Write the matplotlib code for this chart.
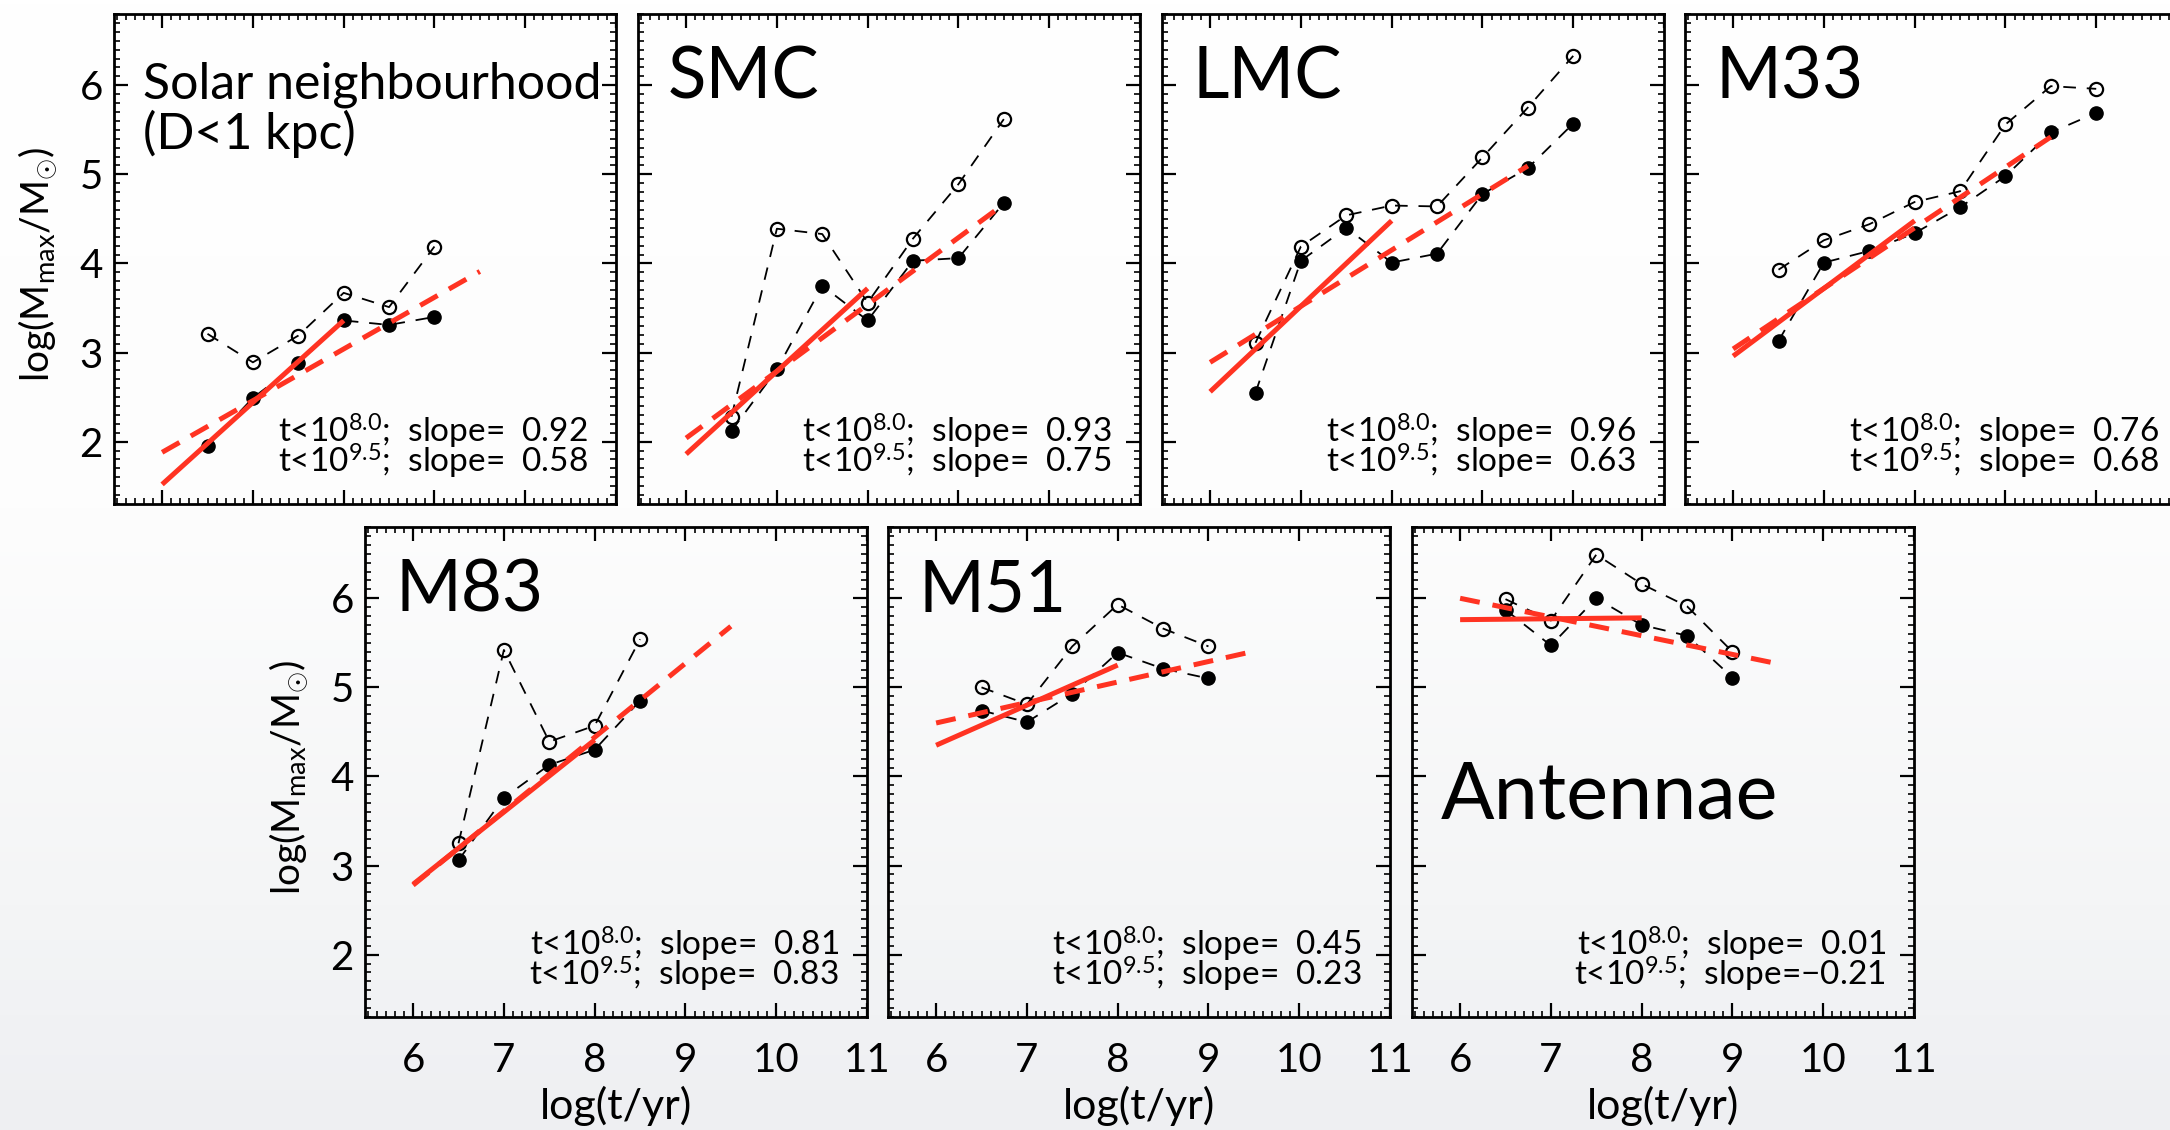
import numpy as np
import matplotlib
matplotlib.use("Agg")
import matplotlib.pyplot as plt
from matplotlib.ticker import MultipleLocator
from matplotlib.colors import LinearSegmentedColormap

plt.rcParams['font.family'] = ['Lato', 'DejaVu Sans']
plt.rcParams['mathtext.fontset'] = 'custom'
plt.rcParams['mathtext.rm'] = 'Lato'
plt.rcParams['mathtext.it'] = 'Lato'
plt.rcParams['mathtext.default'] = 'rm'

# age bins, log(t/yr)
ages = [6.5, 7.0, 7.5, 8.0, 8.5, 9.0, 9.5, 10.0]

names = ["Solar neighbourhood", "SMC", "LMC", "M33", "M83", "M51", "Antennae"]

# filled = t<10^8 sample, open = upper points
solar_filled = [1.95, 2.49, 2.88, 3.36, 3.31, 3.40]
solar_open = [3.21, 2.89, 3.19, 3.67, 3.51, 4.19]
smc_filled = [2.12, 2.81, 3.75, 3.36, 4.03, 4.06, 4.68]
smc_open = [2.28, 4.39, 4.33, 3.56, 4.28, 4.89, 5.62]
lmc_filled = [2.55, 4.03, 4.40, 4.01, 4.11, 4.78, 5.07, 5.57]
lmc_open = [3.11, 4.19, 4.54, 4.65, 4.64, 5.19, 5.75, 6.33]
m33_filled = [3.13, 4.01, 4.14, 4.34, 4.63, 4.98, 5.47, 5.69]
m33_open = [3.93, 4.26, 4.44, 4.69, 4.81, 5.56, 5.99, 5.96]
m83_filled = [3.06, 3.76, 4.13, 4.30, 4.85]
m83_open = [3.25, 5.42, 4.39, 4.57, 5.54]
m51_filled = [4.74, 4.61, 4.93, 5.39, 5.21, 5.10]
m51_open = [5.00, 4.81, 5.46, 5.93, 5.66, 5.46]
ant_filled = [5.87, 5.47, 6.00, 5.70, 5.58, 5.11]
ant_open = [5.99, 5.75, 6.49, 6.16, 5.91, 5.40]

filled = [solar_filled, smc_filled, lmc_filled, m33_filled, m83_filled, m51_filled, ant_filled]
opened = [solar_open, smc_open, lmc_open, m33_open, m83_open, m51_open, ant_open]

# fits: value at log t = 6 and slope, for t<10^8.0 and t<10^9.5
fit_start = 6.0
short_end = 8.0
long_end = 9.5
short_y0 = [1.52, 1.86, 2.56, 2.96, 2.79, 4.35, 5.76]
short_slope = [0.92, 0.93, 0.96, 0.76, 0.81, 0.45, 0.01]
long_y0 = [1.88, 2.04, 2.89, 3.04, 2.78, 4.60, 6.00]
long_slope = [0.58, 0.75, 0.63, 0.68, 0.83, 0.23, -0.21]

xticks = [6, 7, 8, 9, 10, 11]
yticks = [2, 3, 4, 5, 6]

W, H = 2170, 1130
fig = plt.figure(figsize=(W / 100, H / 100), dpi=100)

# light slide-like background
bg = fig.add_axes([0, 0, 1, 1], zorder=-10)
cmap = LinearSegmentedColormap.from_list('bg', [(0, '#ffffff'), (0.45, '#fdfdfd'),
                                                 (0.8, '#f4f5f6'), (1, '#eeeff2')])
bg.imshow(np.linspace(0, 1, 256).reshape(-1, 1), cmap=cmap, aspect='auto',
          extent=[0, 1, 0, 1])
bg.axis('off')

# panel boxes in pixels: left, top
boxes = [(114, 14), (638, 14), (1162, 14), (1685, 14),
         (365, 527), (888, 527), (1412, 527)]
pw, ph = 502, 490

red = '#ff3322'

def fmt_slope(s):
    if s < 0:
        return "\u2212%.2f" % abs(s)
    return "  %.2f" % s

for i in range(7):
    left, top = boxes[i]
    ax = fig.add_axes([left / W, (H - top - ph) / H, pw / W, ph / H])
    ax.set_facecolor('none')
    ax.set_xlim(5.47, 11.0)
    ax.set_ylim(1.3, 6.8)
    for sp in ax.spines.values():
        sp.set_linewidth(2.0)

    n = len(filled[i])
    ax.plot(ages[:n], opened[i], color='black', lw=1.3, dashes=(7, 6),
            marker='o', ms=9.5, mfc='none', mec='black', mew=1.6, zorder=3)
    ax.plot(ages[:n], filled[i], color='black', lw=1.3, dashes=(7, 6),
            marker='o', ms=9.5, mfc='black', mec='black', zorder=3)

    xs = [fit_start, short_end]
    ax.plot(xs, [short_y0[i] + short_slope[i] * (x - fit_start) for x in xs],
            color=red, lw=3.6, solid_capstyle='butt', zorder=4)
    xl = [fit_start, long_end]
    ax.plot(xl, [long_y0[i] + long_slope[i] * (x - fit_start) for x in xl],
            color=red, lw=3.6, dashes=(4, 2.6), zorder=4)

    # both slope lines in one text block
    slope_txt = ("t<10$^{8.0}$;  slope=" + fmt_slope(short_slope[i]) + "\n"
                 + "t<10$^{9.5}$;  slope=" + fmt_slope(long_slope[i]))
    ax.text(0.944, 0.063, slope_txt, transform=ax.transAxes, ha='right',
            va='baseline', multialignment='right', fontsize=24, linespacing=0.73)

    if i == 0:
        ax.text(0.058, 0.828, names[i], transform=ax.transAxes, fontsize=36,
                va='baseline')
        ax.text(0.058, 0.725, "(D<1 kpc)", transform=ax.transAxes, fontsize=36,
                va='baseline')
    elif names[i] == "Antennae":
        ax.text(0.058, 0.405, names[i], transform=ax.transAxes, fontsize=57,
                va='baseline')
    else:
        ax.text(0.06, 0.828, names[i], transform=ax.transAxes, fontsize=51,
                va='baseline')

    ax.set_xticks(xticks)
    ax.set_yticks(yticks)
    ax.xaxis.set_minor_locator(MultipleLocator(0.1))
    ax.yaxis.set_minor_locator(MultipleLocator(0.1))
    ax.tick_params(which='both', direction='in', top=True, right=True)
    ax.tick_params(which='major', length=10, width=1.6, labelsize=29)
    ax.tick_params(which='minor', length=4.5, width=1.2)
    ax.tick_params(axis='x', pad=18)
    ax.tick_params(axis='y', pad=8)

    if i in (0, 4):
        ax.set_ylabel("log(M$_{max}$/M$_{\\odot}$)", fontsize=28)
        ax.yaxis.set_label_coords(-0.112, 0.49)
    else:
        ax.set_yticklabels([])
    if i >= 4:
        ax.set_xlabel("log(t/yr)", fontsize=31)
        ax.xaxis.set_label_coords(0.5, -0.14)
    else:
        ax.set_xticklabels([])

fig.savefig("out.png", dpi=100)
